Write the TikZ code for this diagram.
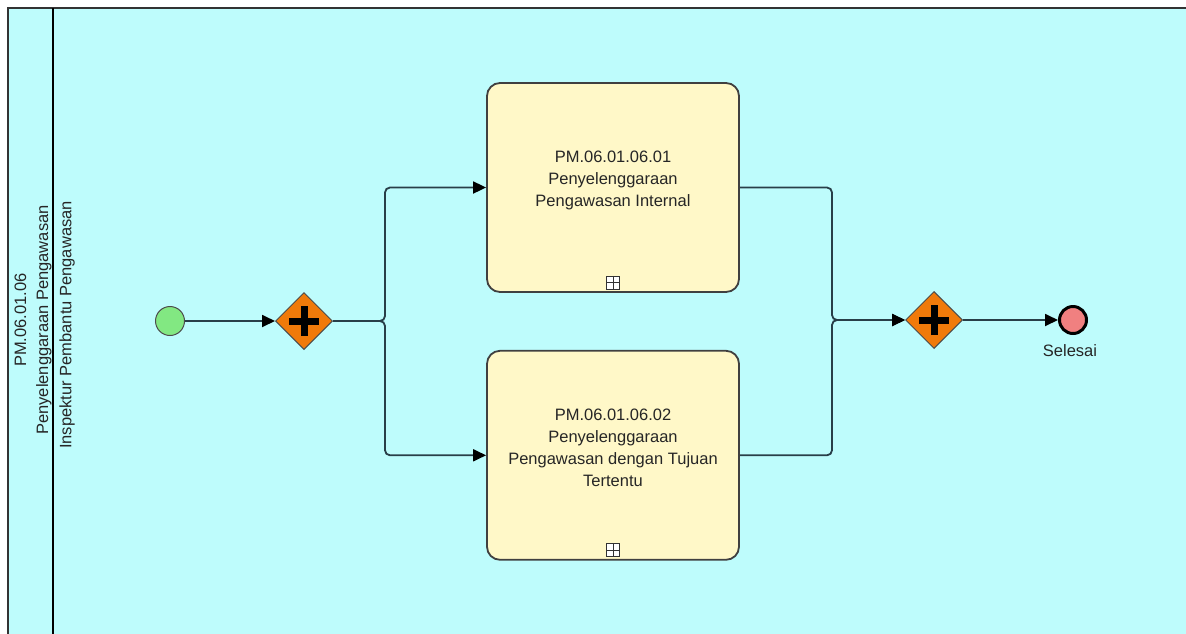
\documentclass[tikz,border=0pt]{standalone}
\usepackage{fontspec}
\setmainfont{Liberation Sans}
\usepackage{tikz}
\usetikzlibrary{arrows.meta, positioning, shapes.geometric}
\definecolor{lanecyan}{RGB}{190,252,252}
\definecolor{taskyellow}{RGB}{255,248,200}
\definecolor{gworange}{RGB}{240,122,10}
\definecolor{startgreen}{RGB}{130,232,130}
\definecolor{endred}{RGB}{240,128,128}
\definecolor{flowgray}{RGB}{40,62,72}

\begin{document}
\begin{tikzpicture}[
    x=1pt, y=-1pt,
    font=\fontsize{16.5}{22}\selectfont,
    task/.style={
        rectangle, rounded corners=13pt,
        draw=black!75, line width=1.8pt,
        fill=taskyellow,
        minimum width=252pt, minimum height=209pt
    },
    tasktext/.style={align=center, text=black!85},
    gateway/.style={
        diamond, draw=black!70, line width=1pt,
        fill=gworange, inner sep=0pt,
        minimum width=57pt, minimum height=57pt,
        path picture={
            \draw[line width=7pt, black]
                ([xshift=-15pt]path picture bounding box.center) -- ([xshift=15pt]path picture bounding box.center)
                ([yshift=-15pt]path picture bounding box.center) -- ([yshift=15pt]path picture bounding box.center);
        }
    },
    startev/.style={circle, draw=black!70, line width=1pt, fill=startgreen, minimum size=29pt, inner sep=0pt},
    endev/.style={circle, draw=black, line width=3pt, fill=endred, minimum size=27pt, inner sep=0pt},
    marker/.style={
        rectangle, draw=black!80, line width=0.9pt, fill=white,
        minimum size=13pt, inner sep=0pt,
        path picture={
            \draw[line width=0.9pt, black!80]
                (path picture bounding box.west) -- (path picture bounding box.east)
                (path picture bounding box.north) -- (path picture bounding box.south);
        }
    },
    flow/.style={-{Triangle[length=13pt, width=12pt, color=black]}, line width=1.8pt, draw=flowgray, rounded corners=5pt},
]

\useasboundingbox (0,0) rectangle (1186,633);
\clip (0,0) rectangle (1186,633);

% Pool and lane
\fill[lanecyan] (8,8) rectangle (1200,650);
\draw[line width=2pt, black!80] (8,650) -- (8,8) -- (1200,8);
\draw[line width=2.8pt, black] (53,8) -- (53,650);
\node[rotate=90, align=center, text=black!85] (poollbl) at (33,320) {PM.06.01.06\\Penyelenggaraan Pengawasan};
\node[rotate=90, text=black!85] (lanelbl) at (67,325) {Inspektur Pembantu Pengawasan};

% Events and gateways
\node[startev] (start) at (170,321) {};
\node[gateway, right=90pt of start] (gw1) {};
\node[gateway] (gw2) at (934,320) {};
\node[endev, right=95pt of gw2] (endev) {};
\node[text=black!85, below=6pt of endev, xshift=-3pt] (endlbl) {Selesai};

% Sub-processes
\node[task] (task1) at (613,187.5) {};
\node[task, below=57pt of task1] (task2) {};
\node[tasktext] (task1txt) at ([yshift=7pt]task1.center) {PM.06.01.06.01\\Penyelenggaraan\\Pengawasan Internal};
\node[tasktext] (task2txt) at ([yshift=7pt]task2.center) {PM.06.01.06.02\\Penyelenggaraan\\Pengawasan dengan Tujuan\\Tertentu};
\node[marker, above=3.5pt of task1.south] (mark1) {};
\node[marker, above=3.5pt of task2.south] (mark2) {};

% Flows
\coordinate[right=52pt of gw1.east] (split);
\coordinate[left=73pt of gw2.west] (merge);
\draw[flow] (start) -- (gw1);
\draw[flow] (gw1.east) -- (split) |- (task1.west);
\draw[flow] (gw1.east) -- (split) |- (task2.west);
\draw[flow] (task1.east) -| (merge) -- (gw2.west);
\draw[flow] (task2.east) -| (merge) -- (gw2.west);
\draw[flow] (gw2) -- (endev);

\end{tikzpicture}
\end{document}
